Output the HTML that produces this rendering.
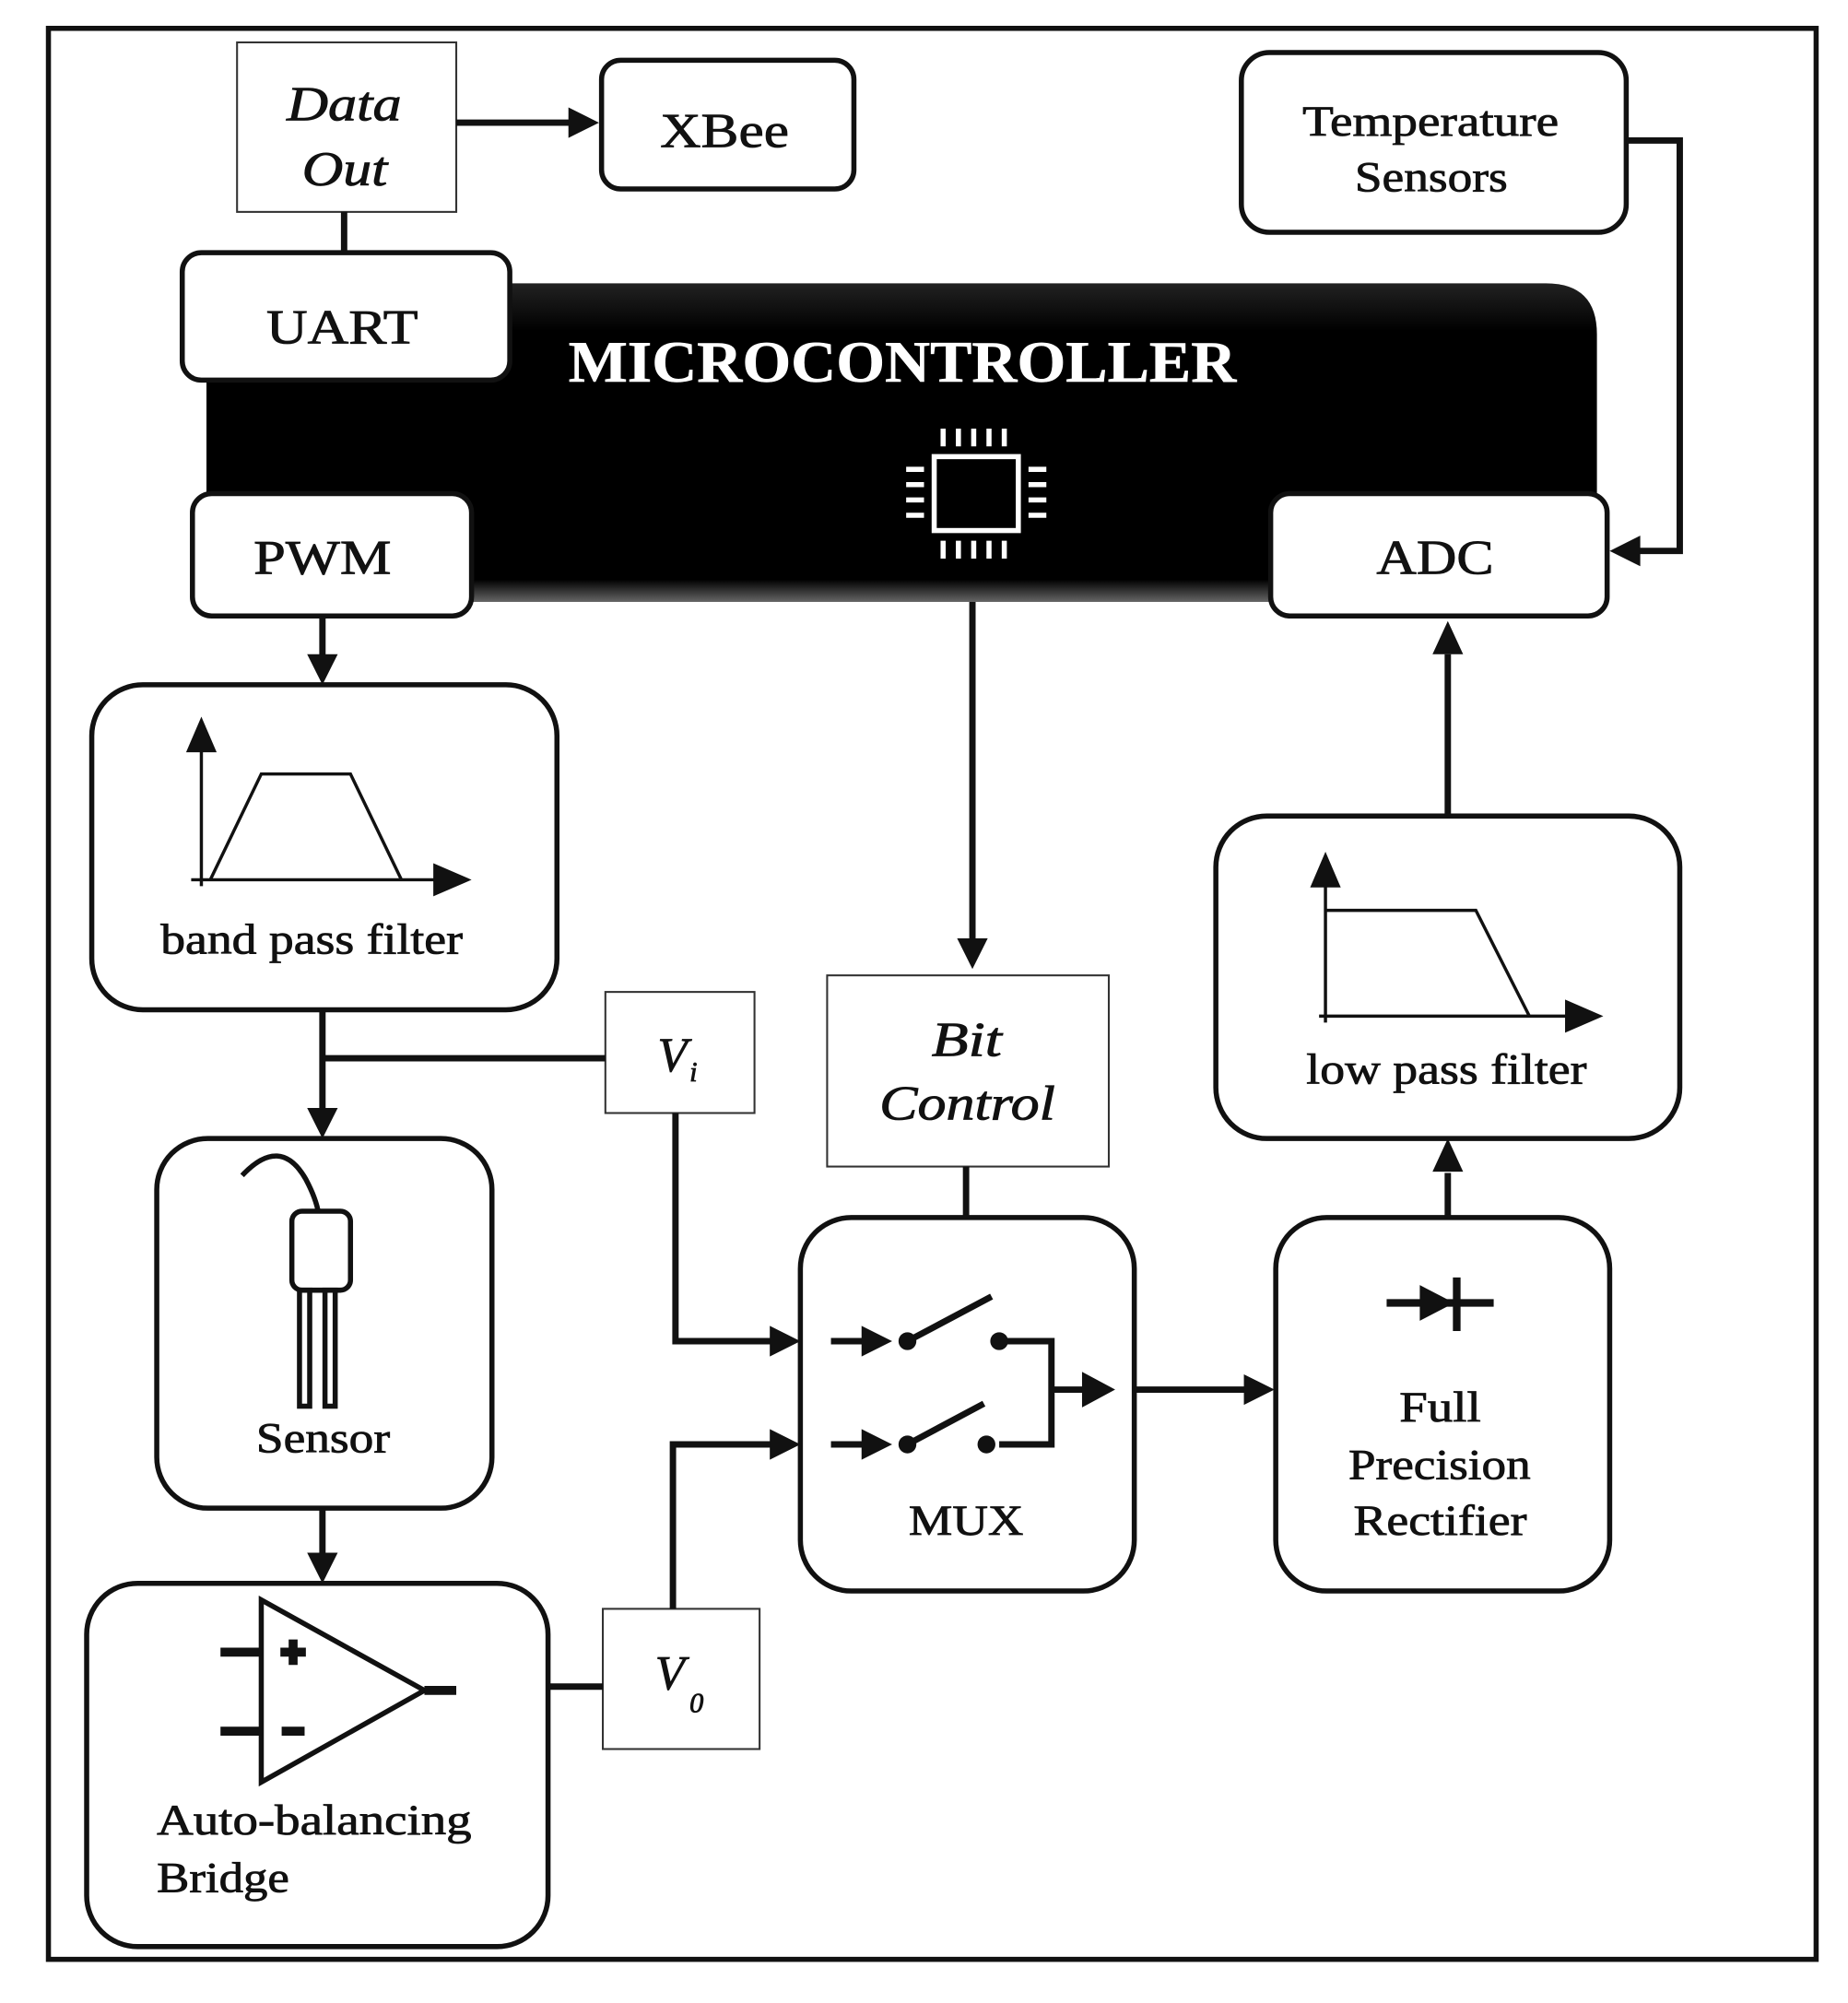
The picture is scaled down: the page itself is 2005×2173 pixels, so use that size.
<!DOCTYPE html>
<html><head><meta charset="utf-8"><style>
html,body{margin:0;padding:0;background:#fff;}
svg{display:block;}
text{font-family:"Liberation Serif",serif;fill:#111;stroke:#111;stroke-width:0.6;}
</style></head><body>
<svg width="2005" height="2173" viewBox="0 0 1450 1571" xmlns="http://www.w3.org/2000/svg">
<defs>
<linearGradient id="mg" x1="0" y1="0" x2="0" y2="1">
<stop offset="0" stop-color="#222"/><stop offset="0.15" stop-color="#000"/><stop offset="0.93" stop-color="#000"/><stop offset="1" stop-color="#666"/>
</linearGradient>
</defs>
<rect x="0" y="0" width="1450" height="1571" fill="#fff"/>
<rect x="38" y="22" width="1387" height="1515" fill="none" stroke="#111" stroke-width="4"/>

<path d="M162 222 H1213 Q1253 222 1253 262 V472 H162 Z" fill="url(#mg)"/>
<text x="446" y="299" font-size="46" font-weight="bold" textLength="524" lengthAdjust="spacingAndGlyphs" style="fill:#fff;stroke:#fff;stroke-width:0.4">MICROCONTROLLER</text>
<g stroke="#fff" fill="none" stroke-width="4">
<rect x="733" y="358" width="66" height="58"/>
<path d="M740 336v14M752 336v14M764 336v14M776 336v14M788 336v14M740 424v14M752 424v14M764 424v14M776 424v14M788 424v14M711 368h14M711 380h14M711 392h14M711 404h14M807 368h14M807 380h14M807 392h14M807 404h14"/>
</g>

<g fill="#fff" stroke="#111" stroke-width="4">
<rect x="472" y="47" width="198" height="101" rx="15"/>
<rect x="974" y="41" width="302" height="141" rx="22"/>
<rect x="143" y="198" width="257" height="100" rx="15"/>
<rect x="151" y="387" width="219" height="96" rx="15"/>
<rect x="997" y="387" width="264" height="96" rx="15"/>
<rect x="72" y="537" width="365" height="255" rx="40"/>
<rect x="123" y="893" width="263" height="290" rx="40"/>
<rect x="68" y="1242" width="362" height="285" rx="40"/>
<rect x="628" y="955" width="262" height="293" rx="40"/>
<rect x="1001" y="955" width="262" height="293" rx="40"/>
<rect x="954" y="640" width="364" height="253" rx="40"/>
</g>
<g fill="#fff" stroke="#333" stroke-width="1.5">
<rect x="186" y="33" width="172" height="133"/>
<rect x="475" y="778" width="117" height="95"/>
<rect x="473" y="1262" width="123" height="110"/>
<rect x="649" y="765" width="221" height="150"/>
</g>

<g stroke="#111" stroke-width="5" fill="none">
<path d="M358 96H450"/>
<path d="M270 166V198"/>
<path d="M1276 110H1318V432H1285"/>
<path d="M253 483V515"/>
<path d="M253 792V871"/>
<path d="M253 830H475"/>
<path d="M530 873V1052H605"/>
<path d="M253 1183V1220"/>
<path d="M430 1323H473"/>
<path d="M528 1262V1133H605"/>
<path d="M763 472V738"/>
<path d="M758 915V955"/>
<path d="M890 1090H978"/>
<path d="M1136 955V920"/>
<path d="M1136 640V513"/>
</g>
<g fill="#111">
<polygon points="470,96 446,84 446,108"/>
<polygon points="1263,432 1287,420 1287,444"/>
<polygon points="253,537 241,513 265,513"/>
<polygon points="253,893 241,869 265,869"/>
<polygon points="628,1052 604,1040 604,1064"/>
<polygon points="253,1242 241,1218 265,1218"/>
<polygon points="628,1133 604,1121 604,1145"/>
<polygon points="763,760 751,736 775,736"/>
<polygon points="1000,1090 976,1078 976,1102"/>
<polygon points="1136,893 1124,919 1148,919"/>
<polygon points="1136,487 1124,513 1148,513"/>
</g>

<g stroke="#111" stroke-width="2.5" fill="none">
<path d="M158 695V580M150 690H345M165 690L205 607H275L315 690"/>
<path d="M1040 802V690M1035 797H1232M1040 714H1158L1200 797"/>
</g>
<polygon points="158,562 146,590 170,590" fill="#111"/>
<polygon points="370,690 340,677 340,703" fill="#111"/>
<polygon points="1040,668 1028,696 1052,696" fill="#111"/>
<polygon points="1258,797 1228,784 1228,810" fill="#111"/>

<g stroke="#111" stroke-width="4" fill="none">
<path d="M190 922 Q220 890 240 925 Q248 940 250 952"/>
<rect x="229" y="950" width="46" height="62" rx="8" fill="#fff"/>
<rect x="235" y="1012" width="8" height="91"/>
<rect x="255" y="1012" width="8" height="91"/>
</g>

<g stroke="#111" stroke-width="4" fill="none">
<polygon points="205,1255 205,1398 333,1326"/>
</g>
<g stroke="#111" stroke-width="7">
<path d="M173 1296H205M173 1358H205M333 1326H358M220 1296H240M230 1286V1306M221 1358H239"/>
</g>

<g stroke="#111" stroke-width="5" fill="none">
<path d="M652 1052H690M712 1052L778 1017M784 1052H825V1133H784M712 1133L772 1101M652 1133H690M825 1090H850"/>
</g>
<g fill="#111">
<polygon points="700,1052 676,1040 676,1064"/>
<polygon points="700,1133 676,1121 676,1145"/>
<circle cx="712" cy="1052" r="7"/><circle cx="784" cy="1052" r="7"/>
<circle cx="712" cy="1133" r="7"/><circle cx="774" cy="1133" r="7"/>
<polygon points="875,1090 849,1076 849,1104"/>
</g>
<g stroke="#111" stroke-width="6">
<path d="M1088 1022H1172M1143 1002V1044"/>
</g>
<polygon points="1141,1022 1114,1008 1114,1036" fill="#111"/>

<g font-size="38">
<text x="225" y="94" font-style="italic" textLength="90" lengthAdjust="spacingAndGlyphs">Data</text>
<text x="237" y="145" font-style="italic" textLength="67" lengthAdjust="spacingAndGlyphs">Out</text>
<text x="518" y="115" textLength="101" lengthAdjust="spacingAndGlyphs">XBee</text>
<text x="209" y="269" textLength="119" lengthAdjust="spacingAndGlyphs">UART</text>
<text x="199" y="450" textLength="108" lengthAdjust="spacingAndGlyphs">PWM</text>
<text x="1080" y="450" textLength="92" lengthAdjust="spacingAndGlyphs">ADC</text>
<text x="731" y="828" font-style="italic" textLength="55" lengthAdjust="spacingAndGlyphs">Bit</text>
<text x="690" y="878" font-style="italic" textLength="138" lengthAdjust="spacingAndGlyphs">Control</text>
</g>
<g font-size="34">
<text x="1022" y="106" textLength="201" lengthAdjust="spacingAndGlyphs">Temperature</text>
<text x="1063" y="150" textLength="120" lengthAdjust="spacingAndGlyphs">Sensors</text>
<text x="126" y="748" textLength="237" lengthAdjust="spacingAndGlyphs">band pass filter</text>
<text x="1025" y="850" textLength="220" lengthAdjust="spacingAndGlyphs">low pass filter</text>
<text x="201" y="1139" textLength="105" lengthAdjust="spacingAndGlyphs">Sensor</text>
<text x="713" y="1204" textLength="90" lengthAdjust="spacingAndGlyphs">MUX</text>
<text x="1098" y="1115" textLength="64" lengthAdjust="spacingAndGlyphs">Full</text>
<text x="1058" y="1160" textLength="143" lengthAdjust="spacingAndGlyphs">Precision</text>
<text x="1062" y="1204" textLength="136" lengthAdjust="spacingAndGlyphs">Rectifier</text>
<text x="123" y="1439" textLength="247" lengthAdjust="spacingAndGlyphs">Auto-balancing</text>
<text x="123" y="1484" textLength="104" lengthAdjust="spacingAndGlyphs">Bridge</text>
</g>
<text x="516" y="840" font-size="38" font-style="italic">V</text>
<text x="541" y="848" font-size="22" font-style="italic">i</text>
<text x="514" y="1325" font-size="38" font-style="italic">V</text>
<text x="541" y="1343" font-size="22" font-style="italic">0</text>
</svg>
</body></html>
